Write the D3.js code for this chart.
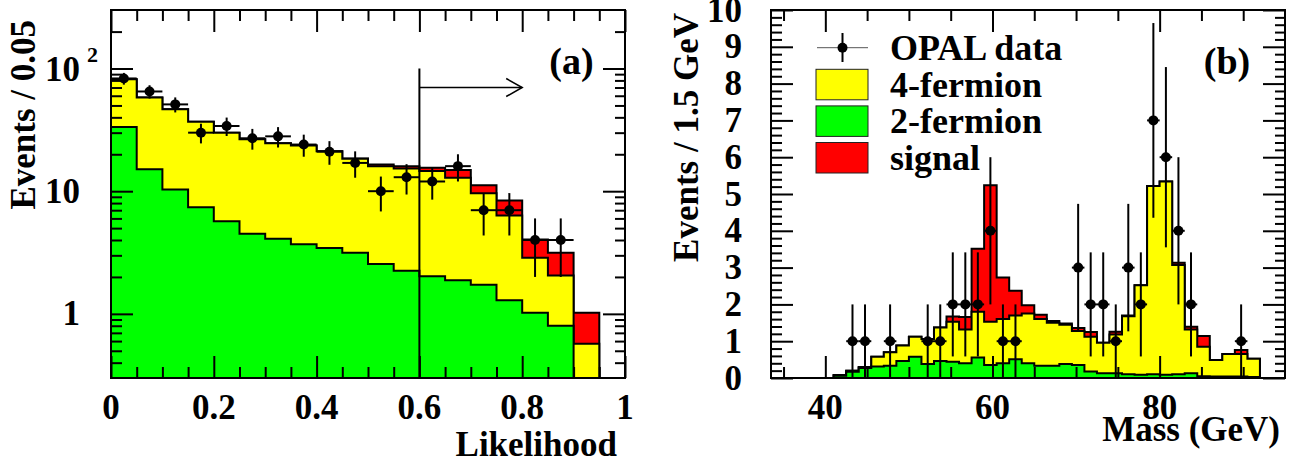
<!DOCTYPE html>
<html><head><meta charset="utf-8">
<script src="https://cdn.jsdelivr.net/npm/d3@7"></script>
<style>
body{margin:0;background:#fff}
svg{display:block}
text{font-family:"Liberation Serif","Times New Roman",serif;font-weight:bold;fill:#000}
</style>
</head><body>
<svg id="c" width="1292" height="464"></svg>
<script>
// ---------- Panel (a): Likelihood ----------
const likeEdges = [0,0.05,0.1,0.15,0.2,0.25,0.3,0.35,0.4,0.45,0.5,0.55,0.6,0.65,0.7,0.75,0.8,0.85,0.9,0.95,1];
const like2f   = [33.4,15.1,10.3,7.4,5.7,4.5,4.1,3.7,3.45,3.15,2.55,2.25,2.03,1.88,1.73,1.29,1.02,0.80,0,0];
const like4f   = [48.4,42.9,36.2,29.5,24.3,22.0,20.5,19.9,17.75,15.2,13.45,13.05,12.57,11.02,7.87,5.06,1.85,1.25,0.57,0];
const likeSig  = [0,0,0,0,0,0,0,0,0,0.15,0.5,0.7,0.9,2.0,1.6,2.05,1.17,1.1,0.45,0];
const likeData = [83,65,51,30,34,27,28,24,21,17,10,13,12,16,7,7,4,4,0,0];
const likeCut = 0.6, likeArrowEnd = 0.8, likeArrowY = 70, likeLineTop = 100;
const likeXMajor = [0,0.2,0.4,0.6,0.8,1];
const likeXLabels = ["0","0.2","0.4","0.6","0.8","1"];
const likeXMinor = [0.05,0.1,0.15,0.25,0.3,0.35,0.45,0.5,0.55,0.65,0.7,0.75,0.85,0.9,0.95];
const likeYMajor = [1,10,100];
const likeYMinor = [0.4,0.5,0.6,0.7,0.8,0.9,2,3,4,5,6,7,8,9,20,30,40,50,60,70,80,90,200];

// ---------- Panel (b): Mass ----------
const massEdges = [33.5,35,36.5,38,39.5,41,42.5,44,45.5,47,48.5,50,51.5,53,54.5,56,57.5,59,60.5,62,63.5,65,66.5,68,69.5,71,72.5,74,75.5,77,78.5,80,81.5,83,84.5,86,87.5,89,90.5,92,93.5,95];
const mass2f = [0,0,0,0,0,0.06,0.17,0.27,0.31,0.33,0.46,0.58,0.38,0.46,0.44,0.40,0.56,0.35,0.40,0.51,0.40,0.33,0.33,0.38,0.35,0.18,0.13,0.13,0.10,0.09,0.10,0.09,0.10,0.13,0.05,0.04,0.04,0.04,0.03,0,0];
const mass4f = [0,0,0,0,0,0.02,0.03,0.03,0.27,0.37,0.42,0.54,0.68,0.91,1.09,0.92,1.24,1.18,1.20,1.19,1.35,1.27,1.17,1.07,0.93,0.94,0.83,1.05,1.58,2.43,5.12,5.25,2.97,1.19,0.80,0.45,0.61,0.61,0.49,0,0];
const massSig = [0,0,0,0,0,0,0,0,0,0,0,0,0,0,0.14,0.34,1.71,3.71,1.13,0.67,0.23,0.12,0.05,0.03,0.08,0.13,0,0.08,0.02,0,0,0,0.06,0.07,0.29,0,0,0.11,0,0,0];
const massData = [0,0,0,0,0,0,1,1,0,1,0,0,1,1,2,2,2,4,1,1,0,0,0,0,3,2,2,1,3,2,7,6,4,2,0,0,0,1,0,0,0];
const massXMajor = [40,60,80];
const massXLabels = ["40","60","80"];
const massXMinor = [35,45,50,55,65,70,75,85,90];
const massYMajor = [0,1,2,3,4,5,6,7,8,9,10];
const massYLabels = ["0","1","2","3","4","5","6","7","8","9","10"];
const massYMinor = [];
for (let i = 0; i < 10; i++) for (let j = 1; j < 5; j++) massYMinor.push(+(i + j * 0.2).toFixed(1));

const legendNames = ["OPAL data","4-fermion","2-fermion","signal"];
const colors = {f2:"#00ff00", f4:"#ffff00", sig:"#ff0000"};

// ---------- drawing ----------
const svg = d3.select("#c");
const xL = d3.scaleLinear().domain([0,1]).range([111,625]);
const yL = d3.scaleLog().domain([0.3,300]).range([378,10]).clamp(true);
const xR = d3.scaleLinear().domain([33.5,95]).range([771,1285]);
const yR = d3.scaleLinear().domain([0,10]).range([378,10]);

function cumulate(list){
  const out = [];
  list.forEach((a,i)=> out.push(a.map((v,j)=> v + (i ? out[i-1][j] : 0))));
  return out;
}
function stepPath(edges, vals, x, y){
  const base = y.range()[0];
  let p = `M${x(edges[0])},${base}`;
  vals.forEach((v,i)=>{
    const yy = v > 0 ? y(v) : base;
    p += `L${x(edges[i])},${yy}L${x(edges[i+1])},${yy}`;
  });
  p += `L${x(edges[edges.length-1])},${base}Z`;
  return p;
}

function drawPanel(id, x, y, edges, f2, f4, sig, data){
  const [x0,x1] = x.range(), [yb,yt] = y.range();
  svg.append("clipPath").attr("id","clip"+id).append("rect")
     .attr("x",x0).attr("y",yt).attr("width",x1-x0).attr("height",yb-yt);
  const g = svg.append("g").attr("clip-path",`url(#clip${id})`);
  const [c1,c2,c3] = cumulate([f2,f4,sig]);
  [[c3,colors.sig],[c2,colors.f4],[c1,colors.f2]].forEach(([vals,col])=>{
    g.append("path").attr("d",stepPath(edges,vals,x,y))
      .attr("fill",col).attr("stroke","#000").attr("stroke-width",2).attr("stroke-linejoin","miter");
  });
  return g;
}
function drawData(g, x, y, edges, data){
  const base = y.range()[0];
  data.forEach((n,i)=>{
    if (n <= 0) return;
    const xc = x((edges[i]+edges[i+1])/2);
    const lo = n - Math.sqrt(n), hi = n + Math.sqrt(n);
    g.append("line").attr("x1",xc).attr("x2",xc)
      .attr("y1", lo > 0 ? y(lo) : base).attr("y2", y(hi))
      .attr("stroke","#000").attr("stroke-width",2);
    g.append("line").attr("x1",x(edges[i])).attr("x2",x(edges[i+1]))
      .attr("y1",y(n)).attr("y2",y(n)).attr("stroke","#000").attr("stroke-width",2);
    g.append("circle").attr("cx",xc).attr("cy",y(n)).attr("r",5).attr("fill","#000");
  });
}
function drawFrame(x, y, xMaj, xMin, yMaj, yMin){
  const [x0,x1] = x.range(), [yb,yt] = y.range();
  const tickAxis = (axisFn, scale, vals, len, tx, ty) => {
    const a = svg.append("g").attr("transform",`translate(${tx},${ty})`)
      .call(axisFn(scale).tickValues(vals).tickSize(-len).tickFormat(""));
    a.select(".domain").remove();
    a.selectAll(".tick line").attr("stroke","#000").attr("stroke-width",2);
  };
  tickAxis(d3.axisBottom, x, xMaj, 22, 0, yb);
  tickAxis(d3.axisBottom, x, xMin, 11, 0, yb);
  tickAxis(d3.axisTop, x, xMaj, 22, 0, yt);
  tickAxis(d3.axisTop, x, xMin, 11, 0, yt);
  tickAxis(d3.axisLeft, y, yMaj, 22, x0, 0);
  tickAxis(d3.axisLeft, y, yMin, 11, x0, 0);
  tickAxis(d3.axisRight, y, yMaj, 22, x1, 0);
  tickAxis(d3.axisRight, y, yMin, 10, x1, 0);
  svg.append("rect").attr("x",x0).attr("y",yt).attr("width",x1-x0).attr("height",yb-yt)
     .attr("fill","none").attr("stroke","#000").attr("stroke-width",2);
}

// Panel (a)
const gA = drawPanel("A", xL, yL, likeEdges, like2f, like4f, likeSig, likeData);
gA.append("line").attr("x1",xL(likeCut)).attr("x2",xL(likeCut))
  .attr("y1",yL(likeLineTop)).attr("y2",yL.range()[0]).attr("stroke","#000").attr("stroke-width",2);
gA.append("line").attr("x1",xL(likeCut)).attr("x2",xL(likeArrowEnd))
  .attr("y1",yL(likeArrowY)).attr("y2",yL(likeArrowY)).attr("stroke","#000").attr("stroke-width",1.5);
gA.append("path").attr("d",`M${xL(likeArrowEnd)-16},${yL(likeArrowY)-9}L${xL(likeArrowEnd)},${yL(likeArrowY)}L${xL(likeArrowEnd)-16},${yL(likeArrowY)+9}`)
  .attr("fill","none").attr("stroke","#000").attr("stroke-width",1.5);
drawData(gA, xL, yL, likeEdges, likeData);
drawFrame(xL, yL, likeXMajor, likeXMinor, likeYMajor, likeYMinor);

// Panel (b)
const gB = drawPanel("B", xR, yR, massEdges, mass2f, mass4f, massSig, massData);
drawData(gB, xR, yR, massEdges, massData);
drawFrame(xR, yR, massXMajor, massXMinor, massYMajor, massYMinor);

// ---------- text ----------
const FS = 35;
likeXMajor.forEach((v,i)=> svg.append("text").attr("x",xL(v)).attr("y",419)
  .attr("text-anchor","middle").attr("font-size",FS).text(likeXLabels[i]));
svg.append("text").attr("x",80).attr("y",yL(1)+11.5).attr("text-anchor","end").attr("font-size",FS).text("1");
svg.append("text").attr("x",80).attr("y",yL(10)+11.5).attr("text-anchor","end").attr("font-size",FS).text("10");
svg.append("text").attr("x",80).attr("y",yL(100)+12.5).attr("text-anchor","end").attr("font-size",FS).text("10");
svg.append("text").attr("x",87).attr("y",62).attr("font-size",22).text("2");

massXMajor.forEach((v,i)=> svg.append("text").attr("x",xR(v)).attr("y",419)
  .attr("text-anchor","middle").attr("font-size",FS).text(massXLabels[i]));
massYMajor.forEach((v,i)=> svg.append("text").attr("x",742).attr("y",yR(v)+11.5)
  .attr("text-anchor","end").attr("font-size",FS).text(massYLabels[i]));

svg.append("text").attr("x",617).attr("y",456).attr("text-anchor","end").attr("font-size",FS).text("Likelihood");
svg.append("text").attr("x",1280).attr("y",441).attr("text-anchor","end").attr("font-size",FS).text("Mass (GeV)");
svg.append("text").attr("transform","translate(35,20) rotate(-90)").attr("text-anchor","end").attr("font-size",FS).text("Events / 0.05");
svg.append("text").attr("transform","translate(698,13) rotate(-90)").attr("text-anchor","end").attr("font-size",FS).text("Events / 1.5 GeV");

svg.append("text").attr("x",571.5).attr("y",74).attr("text-anchor","middle").attr("font-size",38).text("(a)");
svg.append("text").attr("x",1227).attr("y",74).attr("text-anchor","middle").attr("font-size",38).text("(b)");

// legend
const lg = svg.append("g");
lg.append("line").attr("x1",817).attr("x2",868).attr("y1",47.7).attr("y2",47.7).attr("stroke","#555").attr("stroke-width",1);
lg.append("line").attr("x1",842.5).attr("x2",842.5).attr("y1",33).attr("y2",62).attr("stroke","#000").attr("stroke-width",2);
lg.append("circle").attr("cx",842.5).attr("cy",47.7).attr("r",5).attr("fill","#000");
const boxCols = [colors.f4, colors.f2, colors.sig];
const boxTops = [69.3, 105.9, 142.5];
boxCols.forEach((c,i)=> lg.append("rect").attr("x",816).attr("y",boxTops[i]).attr("width",52).attr("height",30.5)
  .attr("fill",c).attr("stroke","#222").attr("stroke-width",1));
const legBase = [60, 96.5, 133, 169.5];
legendNames.forEach((t,i)=> lg.append("text").attr("x",890).attr("y",legBase[i]).attr("font-size",36).text(t));
</script>
</body></html>
